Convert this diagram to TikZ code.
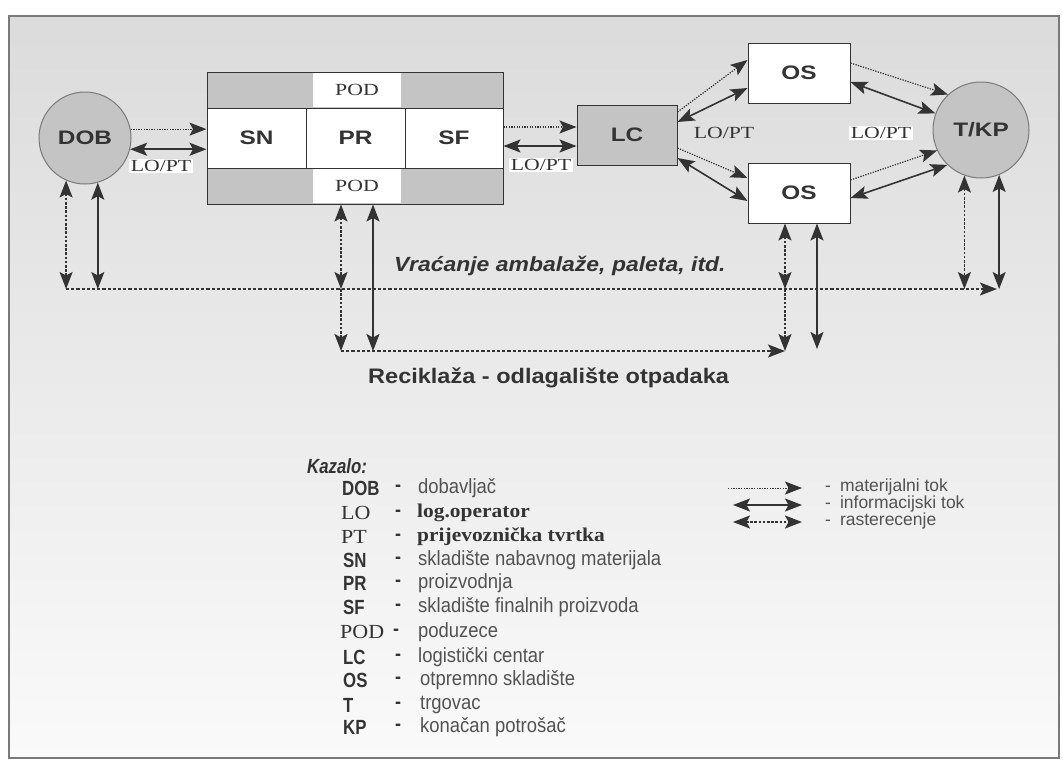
\documentclass[tikz,border=0pt]{standalone}
\usepackage{fontspec}
\setmainfont{Liberation Sans}
\newfontfamily\hsans[FakeStretch=1.25]{Liberation Sans}
\newfontfamily\nsans[FakeStretch=0.9]{Liberation Sans}
\newfontfamily\nbsans[FakeStretch=0.82]{Liberation Sans}
\newfontfamily\wsans[FakeStretch=1.12]{Liberation Sans}
\newfontfamily\wserif[FakeStretch=1.28]{Liberation Serif}
\newfontfamily\lserif[FakeStretch=1.1]{Liberation Serif}
\usetikzlibrary{arrows.meta,calc}
\definecolor{ink}{HTML}{333333}
\definecolor{fillg}{HTML}{C4C4C4}
\definecolor{rim}{HTML}{7A7A7A}
\tikzset{
  circ/.style={circle, draw=rim, line width=1pt, fill=fillg, minimum size=#1, inner sep=0pt,
    font=\hsans\bfseries\fontsize{19.5}{20}\selectfont, text=ink},
  cell/.style={rectangle, draw=ink, line width=1pt, fill=white, minimum width=#1,
    minimum height=60pt, inner sep=0pt, font=\hsans\bfseries\fontsize{19.5}{20}\selectfont, text=ink},
  band/.style={rectangle, draw=ink, line width=1pt, fill=fillg, minimum width=296pt,
    minimum height=36pt, inner sep=0pt},
  podlab/.style={rectangle, fill=white, minimum width=88pt, minimum height=34pt, inner sep=0pt,
    font=\wserif\fontsize{17}{17}\selectfont, text=ink},
  lopt/.style={fill=white, inner sep=1.5pt, font=\wserif\fontsize{17}{17}\selectfont, text=ink},
  mat/.style={draw=ink, line width=1.2pt, dash pattern=on 1.3pt off 1.3pt},
  inf/.style={draw=ink, line width=1.6pt},
  ras/.style={draw=ink, line width=1.5pt, dash pattern=on 2.6pt off 1.6pt},
  ret/.style={draw=ink, line width=1.4pt, dash pattern=on 3.2pt off 2pt},
  abl/.style={anchor=west, inner sep=0pt, font=\nbsans\bfseries\fontsize{20.5}{20}\selectfont, text=ink},
  abs/.style={anchor=west, inner sep=0pt, font=\lserif\fontsize{20}{20}\selectfont, text=ink},
  dsh/.style={inner sep=0pt, font=\nsans\bfseries\fontsize{20}{20}\selectfont, text=ink},
  dsc/.style={anchor=west, inner sep=0pt, font=\nsans\fontsize{20.5}{20}\selectfont, text=ink!85},
  dscb/.style={anchor=west, inner sep=0pt, font=\lserif\bfseries\fontsize{19.5}{20}\selectfont, text=ink},
  kdsc/.style={anchor=west, inner sep=0pt, font=\fontsize{17.5}{17}\selectfont, text=ink!85},
  >={Stealth[length=17pt,width=13pt,inset=3.5pt]}
}
\begin{document}
\begin{tikzpicture}[x=1pt,y=-1pt]
\useasboundingbox (0,0) rectangle (1063,761);
\fill[white] (0,0) rectangle (1063,761);
\shade[top color=black!14, bottom color=black!2] (9,16) rectangle (1059,758);
\draw[rim, line width=1.2pt] (9,16) rectangle (1059,758);

% ---- main nodes
\node[circ=92pt] (DOB) at (85,138) {DOB};
\node[band] (PODt) at (355,90) {};
\node[podlab] (PODtl) at (357,90) {POD};
\node[band] (PODb) at (355,186) {};
\node[podlab] (PODbl) at (357,186) {POD};
\node[cell=99pt] (SN) at (256.5,138) {SN};
\node[cell=99pt] (PR) at (355.5,138) {PR};
\node[cell=98pt] (SF) at (454,138) {SF};
\node[cell=100pt, fill=fillg] (LC) at (627,135) {LC};
\node[cell=102pt] (OS1) at (799,73) {OS};
\node[cell=102pt] (OS2) at (799,193) {OS};
\node[circ=96pt] (TKP) at (981,130) {T/KP};

% ---- DOB <-> SN
\draw[mat,->] (DOB.11) -- (SN.west |- DOB.11);
\draw[inf,<->] (DOB.-14) -- (SN.west |- DOB.-14);
\node[lopt] (l1) at (161,166) {LO/PT};

% ---- SF <-> LC
\coordinate (lca) at ([yshift=8pt]LC.west);
\coordinate (lcb) at ([yshift=-11pt]LC.west);
\draw[mat,->] (SF.east |- lca) -- (lca);
\draw[inf,<->] (SF.east |- lcb) -- (lcb);
\node[lopt] (l2) at (541,165) {LO/PT};

% ---- LC <-> OS
\draw[mat,->] ([yshift=23pt]LC.east) -- ([yshift=13pt]OS1.west);
\draw[inf,<->] ([yshift=13pt]LC.east) -- ([yshift=-15pt]OS1.west);
\draw[mat,->] ([yshift=-13pt]LC.east) -- ([yshift=15pt]OS2.west);
\draw[inf,<->] ([yshift=-23pt]LC.east) -- ([yshift=-8pt]OS2.west);
\node[lopt, fill=none] (l3) at (724,133) {LO/PT};

% ---- OS <-> T/KP
\draw[mat,->] ([yshift=10pt]OS1.east) -- (TKP.133);
\draw[inf,<->] ([yshift=-9pt]OS1.east) -- (TKP.160);
\draw[mat,->] ([yshift=13pt]OS2.east) -- (TKP.205);
\draw[inf,<->] ([yshift=-5pt]OS2.east) -- (TKP.226);
\node[lopt] (l4) at (881,133) {LO/PT};

% ---- return lines
\coordinate (retL) at (66,289);
\coordinate (retR) at (997,289);
\coordinate (recL) at (341,351);
\coordinate (recR) at (785,351);
\coordinate (p1) at (341,289);
\coordinate (p2) at (373,351);
\coordinate (o1) at (785,289);
\coordinate (o2) at (817,349);

\draw[ret,->] (retL) -- (retR);
\draw[ret,->] (recL) -- (recR);

\draw[ras,<->] (DOB.246) -- (DOB.246 |- retL);
\draw[inf,<->] (DOB.286) -- (DOB.286 |- retL);

\draw[ras,<->] (PODb.south -| p1) -- (p1);
\draw[ras,->] (p1) -- (recL);
\draw[inf,<->] (PODb.south -| p2) -- (p2);

\draw[ras,<->] (OS2.south -| o1) -- (o1);
\draw[ras,->] (o1) -- (recR);
\draw[inf,<->] (OS2.south -| o2) -- (o2);

\draw[ras,<->] (TKP.250) -- (TKP.250 |- retR);
\draw[inf,<->] (TKP.292) -- (TKP.292 |- retR);

\node[anchor=west, inner sep=0pt, font=\wsans\bfseries\itshape\fontsize{20.5}{20}\selectfont, text=ink]
  (vr) at (394,266) {Vraćanje ambalaže, paleta, itd.};
\node[anchor=west, inner sep=0pt, font=\wsans\bfseries\fontsize{21}{20}\selectfont, text=ink]
  (rc) at (368,378) {Reciklaža - odlagalište otpadaka};

% ---- legend
\node[anchor=west, inner sep=0pt, font=\nbsans\bfseries\itshape\fontsize{20.5}{20}\selectfont, text=ink]
  (kaz) at (307,466) {Kazalo:};

\node[abl] (a1) at (342,488) {DOB};   \node[dsh] (d1) at (398,488) {-};  \node[dsc] (t1) at (418,488) {dobavljač};
\node[abs] (a2) at (341,513) {LO};    \node[dsh] (d2) at (398,513) {-};  \node[dscb] (t2) at (417,513) {log.operator};
\node[abs] (a3) at (341,537) {PT};    \node[dsh] (d3) at (398,537) {-};  \node[dscb] (t3) at (417,537) {prijevoznička tvrtka};
\node[abl] (a4) at (343,560) {SN};    \node[dsh] (d4) at (398,560) {-};  \node[dsc] (t4) at (418,560) {skladište nabavnog materijala};
\node[abl] (a5) at (343,583) {PR};    \node[dsh] (d5) at (398,583) {-};  \node[dsc] (t5) at (418,583) {proizvodnja};
\node[abl] (a6) at (343,607) {SF};    \node[dsh] (d6) at (398,607) {-};  \node[dsc] (t6) at (418,607) {skladište finalnih proizvoda};
\node[abs] (a7) at (340,632) {POD};   \node[dsh] (d7) at (396,632) {-};  \node[dsc] (t7) at (418,632) {poduzece};
\node[abl] (a8) at (343,657) {LC};    \node[dsh] (d8) at (398,657) {-};  \node[dsc] (t8) at (418,657) {logistički centar};
\node[abl] (a9) at (343,680) {OS};    \node[dsh] (d9) at (398,680) {-};  \node[dsc] (t9) at (420,680) {otpremno skladište};
\node[abl] (a10) at (343,705) {T};    \node[dsh] (d10) at (398,705) {-}; \node[dsc] (t10) at (420,705) {trgovac};
\node[abl] (a11) at (343,727) {KP};   \node[dsh] (d11) at (398,727) {-}; \node[dsc] (t11) at (420,727) {konačan potrošač};

\coordinate (m1a) at (728,488); \coordinate (m1b) at (802,488);
\coordinate (m2a) at (733,505); \coordinate (m2b) at (802,505);
\coordinate (m3a) at (733,522); \coordinate (m3b) at (802,522);
\draw[mat,->, line width=0.9pt] (m1a) -- (m1b);
\draw[inf,<->] (m2a) -- (m2b);
\draw[ras,<->] (m3a) -- (m3b);
\node[kdsc] (k1) at (825,487) {-\hspace{9pt}materijalni tok};
\node[kdsc] (k2) at (825,504) {-\hspace{9pt}informacijski tok};
\node[kdsc] (k3) at (825,521) {-\hspace{9pt}rasterecenje};
\end{tikzpicture}
\end{document}
